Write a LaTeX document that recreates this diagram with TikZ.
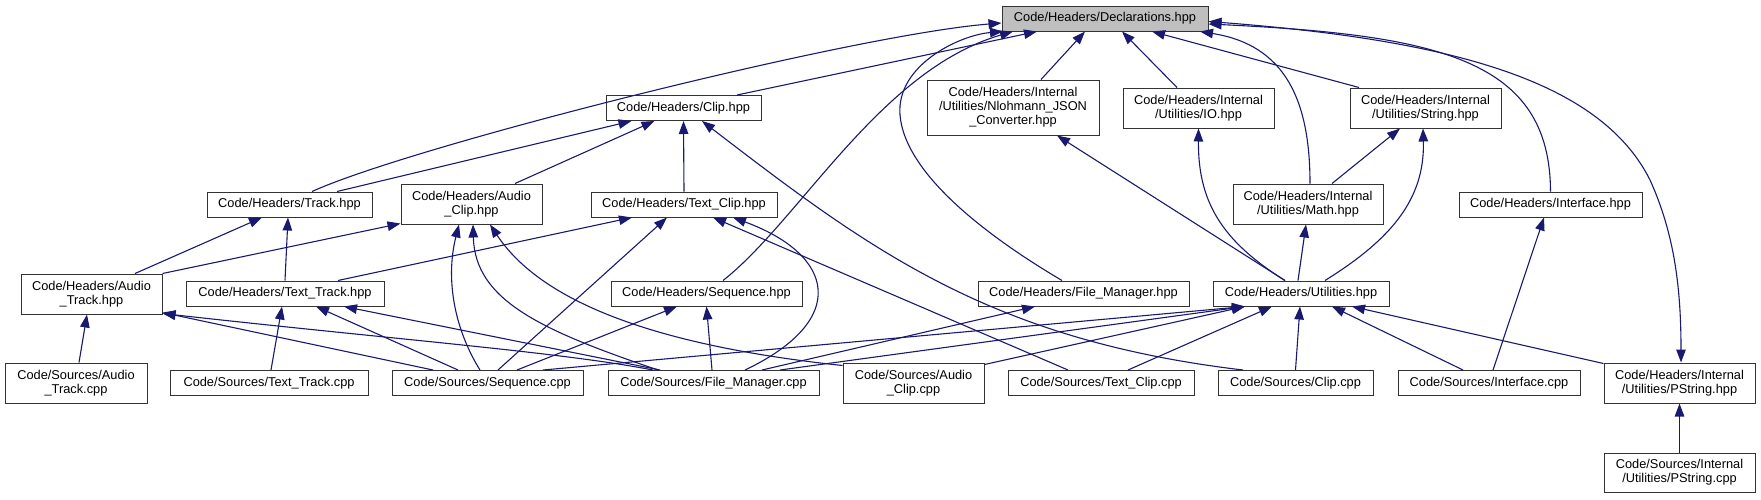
\documentclass[tikz,border=0pt]{standalone}
\usepackage{fontspec}
\setmainfont{Liberation Sans}
\usetikzlibrary{arrows.meta}
\definecolor{edgecol}{HTML}{191970}
\definecolor{declfill}{HTML}{BFBFBF}
\definecolor{boxline}{HTML}{333333}
\tikzset{
  >={Triangle[length=13pt,width=9.5pt]},
  box/.style={draw=boxline, line width=1pt, fill=white, rectangle, inner sep=0pt, align=center,
    font=\fontsize{12.8}{14}\selectfont},
  dep/.style={draw=edgecol, line width=1.1pt, ->},
  depboth/.style={draw=edgecol, line width=1.1pt, <->},
}
\begin{document}
\begin{tikzpicture}[x=1pt,y=-1pt]
\useasboundingbox (0,0) rectangle (1761,499);
% nodes
\node[box, fill=declfill, minimum width=206pt, minimum height=25pt] (decl) at (1105,18.5) {Code/Headers/Declarations.hpp};
\node[box, minimum width=155pt, minimum height=25pt] (clip) at (683.5,108) {Code/Headers/Clip.hpp};
\node[box, minimum width=172pt, minimum height=55pt] (njson) at (1013,107.5) {Code/Headers/Internal\\/Utilities/Nlohmann\_JSON\\\_Converter.hpp};
\node[box, minimum width=151pt, minimum height=40pt] (io) at (1198.5,108) {Code/Headers/Internal\\/Utilities/IO.hpp};
\node[box, minimum width=151pt, minimum height=40pt] (string) at (1425.5,108) {Code/Headers/Internal\\/Utilities/String.hpp};
\node[box, minimum width=165pt, minimum height=25pt] (track) at (289.5,204.5) {Code/Headers/Track.hpp};
\node[box, minimum width=141pt, minimum height=40pt] (aclip) at (471.5,204) {Code/Headers/Audio\\\_Clip.hpp};
\node[box, minimum width=186pt, minimum height=25pt] (tclip) at (684,204.5) {Code/Headers/Text\_Clip.hpp};
\node[box, minimum width=150pt, minimum height=40pt] (math) at (1308,204) {Code/Headers/Internal\\/Utilities/Math.hpp};
\node[box, minimum width=183pt, minimum height=25pt] (iface) at (1550.5,204.5) {Code/Headers/Interface.hpp};
\node[box, minimum width=141pt, minimum height=40pt] (atrack) at (91.5,294) {Code/Headers/Audio\\\_Track.hpp};
\node[box, minimum width=198pt, minimum height=25pt] (ttrack) at (285,293.5) {Code/Headers/Text\_Track.hpp};
\node[box, minimum width=191pt, minimum height=25pt] (seq) at (706.5,293.5) {Code/Headers/Sequence.hpp};
\node[box, minimum width=211pt, minimum height=25pt] (fmh) at (1083.5,293.5) {Code/Headers/File\_Manager.hpp};
\node[box, minimum width=176pt, minimum height=25pt] (util) at (1301,293.5) {Code/Headers/Utilities.hpp};
\node[box, minimum width=142pt, minimum height=40pt] (atcpp) at (76,383) {Code/Sources/Audio\\\_Track.cpp};
\node[box, minimum width=198pt, minimum height=25pt] (ttcpp) at (269,383) {Code/Sources/Text\_Track.cpp};
\node[box, minimum width=191pt, minimum height=25pt] (seqcpp) at (487.5,383) {Code/Sources/Sequence.cpp};
\node[box, minimum width=211pt, minimum height=25pt] (fmcpp) at (713.5,383) {Code/Sources/File\_Manager.cpp};
\node[box, minimum width=141pt, minimum height=40pt] (accpp) at (913.5,383) {Code/Sources/Audio\\\_Clip.cpp};
\node[box, minimum width=186pt, minimum height=25pt] (tccpp) at (1101,383) {Code/Sources/Text\_Clip.cpp};
\node[box, minimum width=155pt, minimum height=25pt] (clipcpp) at (1295.5,383) {Code/Sources/Clip.cpp};
\node[box, minimum width=182pt, minimum height=25pt] (ifcpp) at (1489,383) {Code/Sources/Interface.cpp};
\node[box, minimum width=151pt, minimum height=40pt] (pstrh) at (1679.5,383) {Code/Headers/Internal\\/Utilities/PString.hpp};
\node[box, minimum width=151pt, minimum height=39pt] (pstrcpp) at (1679.5,472.5) {Code/Sources/Internal\\/Utilities/PString.cpp};
% edges to Declarations
\draw[dep] ([xshift=22.5pt]track.north) .. controls (412,146) and (852,35) .. ([yshift=-4.5pt]decl.west);
\draw[dep] ([xshift=53.5pt]clip.north) -- ([xshift=-68pt]decl.south);
\draw[dep] ([xshift=16.5pt]seq.north) .. controls (800,220) and (880,70) .. ([xshift=-92pt]decl.south);
\draw[dep] ([xshift=-21.5pt]fmh.north) .. controls (990,238) and (905,175) .. (900,115) .. controls (896,65) and (960,35) .. ([xshift=-102pt]decl.south);
\draw[dep] ([xshift=28pt]njson.north) -- ([xshift=-20pt]decl.south);
\draw[dep] ([xshift=-21.5pt]io.north) -- ([xshift=17pt]decl.south);
\draw[dep] ([xshift=-66.5pt]string.north) -- ([xshift=47pt]decl.south);
\draw[dep] ([xshift=2pt]math.north) .. controls (1310,100) and (1285,45) .. ([xshift=95pt]decl.south);
\draw[dep] (iface.north) .. controls (1550,60) and (1440,35) .. ([yshift=-5.5pt]decl.east);
\draw[depboth] ([yshift=-3pt]decl.east) .. controls (1450,40) and (1600,80) .. (1650,180) .. controls (1675,235) and (1681,290) .. ([xshift=1.5pt]pstrh.north);
% edges to Clip.hpp
\draw[dep] ([xshift=47.5pt]track.north) -- ([xshift=-52pt]clip.south);
\draw[dep] ([xshift=43.5pt]aclip.north) -- ([xshift=-29pt]clip.south);
\draw[dep] (tclip.north) -- (clip.south);
\draw[dep] ([xshift=-52.5pt]clipcpp.north) .. controls (990,340) and (870,250) .. ([xshift=18.5pt]clip.south);
% edges to Audio_Clip.hpp
\draw[dep] (atrack.north east) -- ([yshift=1pt]aclip.south west);
\draw[dep] ([xshift=-7.5pt]seqcpp.north) .. controls (455,330) and (445,280) .. ([xshift=-12.5pt]aclip.south);
\draw[dep] ([xshift=-55.5pt]fmcpp.north) .. controls (540,330) and (475,300) .. ([xshift=1.5pt]aclip.south);
\draw[dep] ([yshift=-3pt]accpp.north west) .. controls (650,345) and (540,300) .. ([xshift=18.5pt]aclip.south);
% edges to Track.hpp
\draw[dep] ([xshift=43.5pt]atrack.north) -- ([xshift=-27.5pt]track.south);
\draw[dep] (ttrack.north) -- ([xshift=-1.5pt]track.south);
% edges to Text_Clip.hpp
\draw[dep] ([xshift=53pt]ttrack.north) -- ([xshift=-52pt]tclip.south);
\draw[dep] ([xshift=10.5pt]seqcpp.north) -- ([xshift=-17pt]tclip.south);
\draw[dep] ([xshift=31.5pt]fmcpp.north) .. controls (850,320) and (835,255) .. ([xshift=49pt]tclip.south);
\draw[dep] ([xshift=-33pt]tccpp.north) -- ([xshift=29pt]tclip.south);
% edges to Text_Track.hpp
\draw[dep] ([xshift=2pt]ttcpp.north) -- ([xshift=-3pt]ttrack.south);
\draw[dep] ([xshift=-29.5pt]seqcpp.north) -- ([xshift=31pt]ttrack.south);
\draw[dep] ([xshift=-53.5pt]fmcpp.north) -- ([xshift=59pt]ttrack.south);
% edges to Audio_Track.hpp
\draw[dep] ([xshift=3pt]atcpp.north) -- ([xshift=-4.5pt]atrack.south);
\draw[dep] ([xshift=-54.5pt]seqcpp.north) -- ([yshift=2pt]atrack.south east);
\draw[dep] ([xshift=-60.5pt]fmcpp.north) .. controls (560,352) and (400,340) .. ([yshift=1pt]atrack.south east);
% edges to Sequence.hpp
\draw[dep] ([xshift=29.5pt]seqcpp.north) -- ([xshift=-29.5pt]seq.south);
\draw[dep] ([xshift=-1.5pt]fmcpp.north) -- (seq.south);
% edge to File_Manager.hpp
\draw[dep] ([xshift=48.5pt]fmcpp.north) -- ([xshift=-48.5pt]fmh.south);
% edges from Utilities.hpp
\draw[dep] ([xshift=-16pt]util.north) -- ([xshift=44pt]njson.south);
\draw[dep] ([xshift=-16pt]util.north) .. controls (1220,240) and (1198,200) .. (io.south);
\draw[dep] ([xshift=-3pt]util.north) -- ([xshift=-2pt]math.south);
\draw[dep] ([xshift=24pt]util.north) .. controls (1390,240) and (1425,200) .. ([xshift=-2.5pt]string.south);
% edges to Utilities.hpp
\draw[dep] ([xshift=55.5pt]seqcpp.north) -- ([xshift=-56pt]util.south);
\draw[dep] ([xshift=66.5pt]fmcpp.north) -- ([xshift=-56pt]util.south);
\draw[dep] ([yshift=-2pt]accpp.north east) -- ([xshift=-56pt]util.south);
\draw[dep] ([xshift=27pt]tccpp.north) -- ([xshift=-29pt]util.south);
\draw[dep] (clipcpp.north) -- ([xshift=-1pt]util.south);
\draw[dep] ([xshift=-26pt]ifcpp.north) -- ([xshift=31pt]util.south);
\draw[dep] ([yshift=-1pt]pstrh.north west) -- ([xshift=51pt]util.south);
% others
\draw[dep] ([xshift=4pt]ifcpp.north) -- ([xshift=-6.5pt]iface.south);
\draw[dep] ([xshift=24pt]math.north) -- ([xshift=-25.5pt]string.south);
\draw[dep] (pstrcpp.north) -- (pstrh.south);
\end{tikzpicture}
\end{document}
